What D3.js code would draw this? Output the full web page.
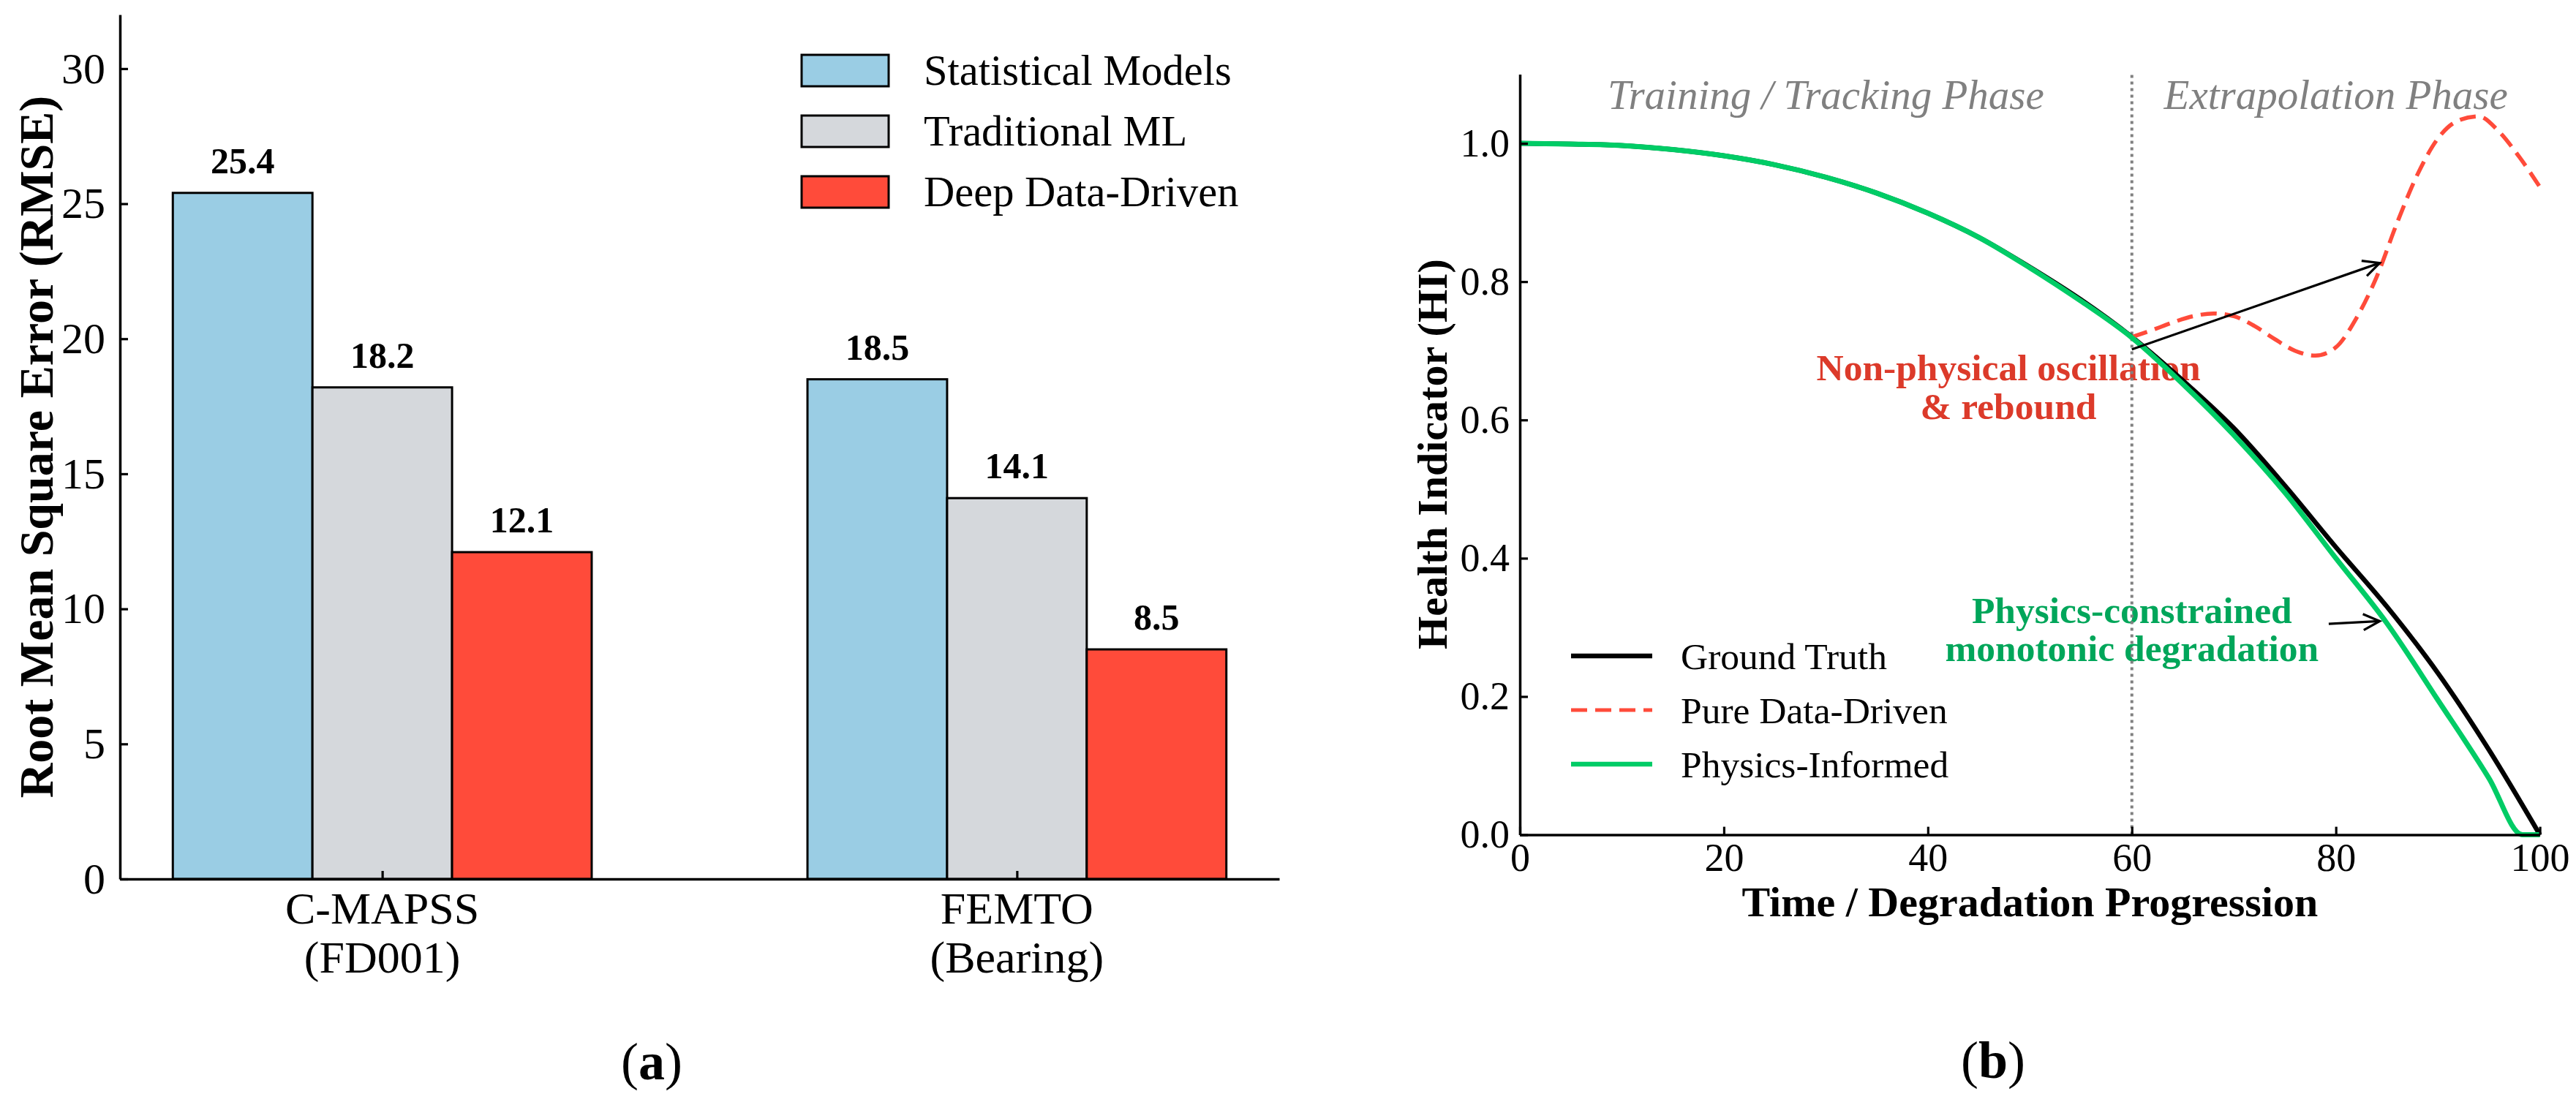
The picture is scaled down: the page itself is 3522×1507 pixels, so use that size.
<!DOCTYPE html>
<html><head><meta charset="utf-8">
<script src="https://cdn.jsdelivr.net/npm/d3@7"></script>
<style>
html,body{margin:0;padding:0;background:#fff;}
svg{display:block;}
text{font-family:"Liberation Serif","Times New Roman",serif;}
</style></head><body>
<svg id="chart" width="3522" height="1507"></svg>
<script>
// ---------- Panel (a) data ----------
const datasetLines = [["C-MAPSS", "(FD001)"], ["FEMTO", "(Bearing)"]];
const methods = ["Statistical Models", "Traditional ML", "Deep Data-Driven"];
const statisticalModels = [25.4, 18.5];
const traditionalML = [18.2, 14.1];
const deepDataDriven = [12.1, 8.5];
const rmseTicks = [0, 5, 10, 15, 20, 25, 30];
const methodColors = ["#9ACDE4", "#D5D8DC", "#FF4B3A"];

// ---------- Panel (b) data ----------
const timeGT = [0, 5, 10, 15, 20, 25, 30, 35, 40, 45, 50, 55, 60, 65, 70, 75, 80, 85, 90, 95, 100];
const groundTruth = [1.000, 0.999, 0.997, 0.991, 0.982, 0.969, 0.951, 0.928, 0.899, 0.864, 0.821, 0.774, 0.720, 0.657, 0.588, 0.505, 0.416, 0.330, 0.234, 0.123, 0.000];
const timePI = [0, 5, 10, 15, 20, 25, 30, 35, 40, 45, 50, 55, 60, 65, 70, 75, 80, 85, 90, 95, 98.3, 100];
const physicsInformed = [1.000, 0.999, 0.997, 0.991, 0.982, 0.969, 0.951, 0.928, 0.899, 0.864, 0.820, 0.772, 0.719, 0.652, 0.578, 0.495, 0.400, 0.306, 0.195, 0.082, 0.000, 0.000];
const timeDD = [60, 62, 64, 66, 68, 70, 72, 74, 76, 78, 80, 82, 84, 86, 88, 90, 92, 94, 96, 98, 100];
const pureDataDriven = [0.720, 0.730, 0.741, 0.750, 0.754, 0.750, 0.736, 0.717, 0.700, 0.693, 0.705, 0.747, 0.807, 0.885, 0.955, 1.007, 1.033, 1.039, 1.017, 0.980, 0.937];
const seriesNames = ["Ground Truth", "Pure Data-Driven", "Physics-Informed"];
const hiTicks = [0, 0.2, 0.4, 0.6, 0.8, 1.0];
const timeTicks = [0, 20, 40, 60, 80, 100];
const phaseLabels = ["Training / Tracking Phase", "Extrapolation Phase"];

const svg = d3.select("#chart");
const serif = '"Liberation Serif","Times New Roman",serif';

function styleAxis(g, fs) {
  g.attr("font-family", serif);
  g.select(".domain").attr("stroke", "#000").attr("stroke-width", 3.5);
  g.selectAll(".tick line").attr("stroke", "#000").attr("stroke-width", 3.2);
  g.selectAll(".tick text").attr("font-size", fs).attr("fill", "#000");
}

// ================= Panel (a) =================
const xA = d3.scaleLinear().domain([-0.4133, 1.4133]).range([164, 1749]);
const yA = d3.scaleLinear().domain([0, 32]).range([1202, 20]);
const barW = 0.22;
const offsets = [-0.22, 0, 0.22];
const seriesA = [statisticalModels, traditionalML, deepDataDriven];

const gA = svg.append("g");
seriesA.forEach((vals, si) => {
  vals.forEach((v, ci) => {
    const x0 = xA(ci + offsets[si] - barW / 2), x1 = xA(ci + offsets[si] + barW / 2);
    gA.append("rect").attr("x", x0).attr("y", yA(v)).attr("width", x1 - x0).attr("height", yA(0) - yA(v))
      .attr("fill", methodColors[si]).attr("stroke", "#000").attr("stroke-width", 3);
    gA.append("text").attr("x", xA(ci + offsets[si])).attr("y", yA(v) - 27)
      .attr("text-anchor", "middle").attr("font-weight", "bold").attr("font-size", 50).text(v.toFixed(1));
  });
});

const axYA = gA.append("g").attr("transform", `translate(${xA.range()[0]},0)`)
  .call(d3.axisLeft(yA).tickValues(rmseTicks).tickSize(-11).tickSizeOuter(0).tickPadding(20));
styleAxis(axYA, 60);
const axXA = gA.append("g").attr("transform", `translate(0,${yA(0)})`)
  .call(d3.axisBottom(xA).tickValues([0, 1]).tickFormat("").tickSize(-11).tickSizeOuter(0));
styleAxis(axXA, 60);

datasetLines.forEach((lines, ci) => {
  lines.forEach((ln, li) => {
    gA.append("text").attr("x", xA(ci)).attr("y", 1263 + li * 67).attr("text-anchor", "middle")
      .attr("font-size", 62).text(ln);
  });
});

gA.append("text").attr("transform", "translate(72,611) rotate(-90)").attr("text-anchor", "middle")
  .attr("font-weight", "bold").attr("font-size", 66).text("Root Mean Square Error (RMSE)");

methods.forEach((m, i) => {
  const cy = 96.5 + i * 83;
  gA.append("rect").attr("x", 1096).attr("y", cy - 21.5).attr("width", 119).attr("height", 43)
    .attr("fill", methodColors[i]).attr("stroke", "#000").attr("stroke-width", 3);
  gA.append("text").attr("x", 1263).attr("y", cy + 19).attr("font-size", 58.5).text(m);
});

const labA = gA.append("text").attr("x", 891).attr("y", 1476).attr("text-anchor", "middle").attr("font-size", 72);
labA.append("tspan").text("(");
labA.append("tspan").attr("font-weight", "bold").text("a");
labA.append("tspan").text(")");

// ================= Panel (b) =================
const xB = d3.scaleLinear().domain([0, 100]).range([2078, 3472.6]);
const yB = d3.scaleLinear().domain([0, 1.1]).range([1141.6, 101.5]);
const gB = svg.append("g");

// phase labels
gB.append("text").attr("x", xB(30)).attr("y", yB(1.05)).attr("text-anchor", "middle")
  .attr("font-style", "italic").attr("font-size", 57).attr("fill", "#808080").text(phaseLabels[0]);
gB.append("text").attr("x", xB(80)).attr("y", yB(1.05)).attr("text-anchor", "middle")
  .attr("font-style", "italic").attr("font-size", 57).attr("fill", "#808080").text(phaseLabels[1]);

// annotation texts (under the lines)
const ann1 = ["Non-physical oscillation", "& rebound"];
ann1.forEach((t, i) => gB.append("text").attr("x", xB(47.9)).attr("y", 520 + i * 53).attr("text-anchor", "middle")
  .attr("font-weight", "bold").attr("font-size", 51.5).attr("fill", "#DC3A2A").text(t));
const ann2 = ["Physics-constrained", "monotonic degradation"];
ann2.forEach((t, i) => gB.append("text").attr("x", xB(60.0)).attr("y", 852 + i * 52).attr("text-anchor", "middle")
  .attr("font-weight", "bold").attr("font-size", 51.5).attr("fill", "#00A65A").text(t));

// vertical dotted line
gB.append("line").attr("x1", xB(60)).attr("x2", xB(60)).attr("y1", yB(0)).attr("y2", yB(1.1))
  .attr("stroke", "#808080").attr("stroke-width", 4).attr("stroke-dasharray", "4,5");

const lineGen = d3.line().curve(d3.curveMonotoneX);
const ptsGT = timeGT.map((t, i) => [xB(t), yB(groundTruth[i])]);
const ptsDD = timeDD.map((t, i) => [xB(t), yB(pureDataDriven[i])]);
const ptsPI = timePI.map((t, i) => [xB(t), yB(physicsInformed[i])]);

gB.append("path").attr("d", lineGen(ptsGT)).attr("fill", "none").attr("stroke", "#000").attr("stroke-width", 6.5);
gB.append("path").attr("d", lineGen(ptsDD)).attr("fill", "none").attr("stroke", "#FF4B3A").attr("stroke-width", 5.5)
  .attr("stroke-dasharray", "22,11");
gB.append("path").attr("d", lineGen(ptsPI)).attr("fill", "none").attr("stroke", "#00CC66").attr("stroke-width", 7);

// arrows
function arrow(p0, p1) {
  const [x0, y0] = [xB(p0[0]), yB(p0[1])], [x1, y1] = [xB(p1[0]), yB(p1[1])];
  gB.append("line").attr("x1", x0).attr("y1", y0).attr("x2", x1).attr("y2", y1)
    .attr("stroke", "#000").attr("stroke-width", 3.2);
  const ang = Math.atan2(y0 - y1, x0 - x1), L = 25, a = 26 * Math.PI / 180;
  const h1 = [x1 + L * Math.cos(ang + a), y1 + L * Math.sin(ang + a)];
  const h2 = [x1 + L * Math.cos(ang - a), y1 + L * Math.sin(ang - a)];
  gB.append("path").attr("d", `M${h1[0]},${h1[1]}L${x1},${y1}L${h2[0]},${h2[1]}`)
    .attr("fill", "none").attr("stroke", "#000").attr("stroke-width", 3.2);
}
arrow([60.0, 0.702], [84.3, 0.827]);
arrow([79.3, 0.305], [84.3, 0.309]);

// axes
const axYB = gB.append("g").attr("transform", `translate(${xB(0)},0)`)
  .call(d3.axisLeft(yB).tickValues(hiTicks).tickFormat(d3.format(".1f")).tickSize(-11).tickSizeOuter(0).tickPadding(14));
styleAxis(axYB, 54);
const axXB = gB.append("g").attr("transform", `translate(0,${yB(0)})`)
  .call(d3.axisBottom(xB).tickValues(timeTicks).tickSize(-11).tickSizeOuter(0).tickPadding(11));
styleAxis(axXB, 54);

gB.append("text").attr("transform", "translate(1978,621) rotate(-90)").attr("text-anchor", "middle")
  .attr("font-weight", "bold").attr("font-size", 58).text("Health Indicator (HI)");
gB.append("text").attr("x", (xB(0) + xB(100)) / 2).attr("y", 1253).attr("text-anchor", "middle")
  .attr("font-weight", "bold").attr("font-size", 58).text("Time / Degradation Progression");

// legend (b)
const legStyles = [
  {stroke: "#000", w: 6.5, dash: null},
  {stroke: "#FF4B3A", w: 5, dash: "22,11"},
  {stroke: "#00CC66", w: 6.5, dash: null}
];
seriesNames.forEach((n, i) => {
  const cy = 897 + i * 74;
  const l = gB.append("line").attr("x1", 2148).attr("x2", 2259).attr("y1", cy).attr("y2", cy)
    .attr("stroke", legStyles[i].stroke).attr("stroke-width", legStyles[i].w);
  if (legStyles[i].dash) l.attr("stroke-dasharray", legStyles[i].dash);
  gB.append("text").attr("x", 2298).attr("y", cy + 18).attr("font-size", 51.5).text(n);
});

const labB = gB.append("text").attr("x", 2725).attr("y", 1474).attr("text-anchor", "middle").attr("font-size", 72);
labB.append("tspan").text("(");
labB.append("tspan").attr("font-weight", "bold").text("b");
labB.append("tspan").text(")");
</script>
</body></html>
